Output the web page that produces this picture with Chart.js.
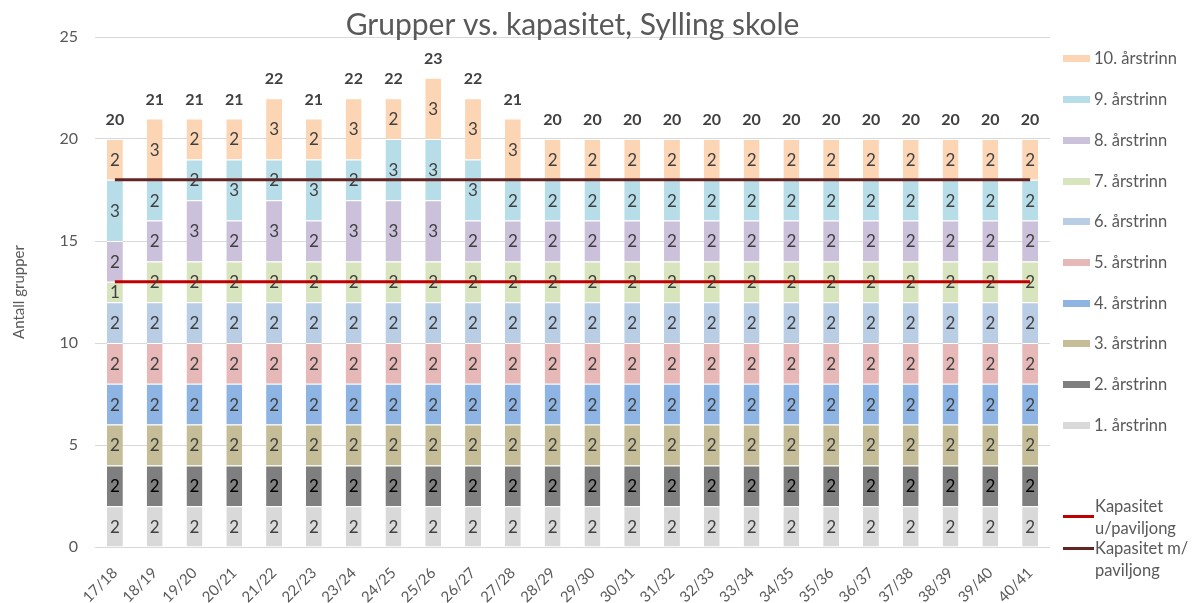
<!DOCTYPE html>
<html>
<head>
<meta charset="utf-8">
<script src="https://cdn.jsdelivr.net/npm/chart.js@4.4.1/dist/chart.umd.min.js"></script>
<style>
  body { margin: 0; background: #fff; font-family: Lato, sans-serif; }
  #wrap { position: relative; width: 1195px; height: 603px; }
  #legend { position: absolute; left: 1063px; top: 0; color: #595959; font-size: 16.5px; }
  .item { position: absolute; left: 0; white-space: nowrap; display: flex; align-items: center; }
  .sw { width: 27px; height: 7px; margin-right: 4px; }
  .ln { width: 31px; height: 3px; }
  .two { position: absolute; left: 32px; line-height: 22px; white-space: nowrap; }
</style>
</head>
<body>
<div id="wrap">
  <canvas id="chart" width="1195" height="603"></canvas>
  <div id="legend"></div>
</div>
<script>
const years = ["17/18","18/19","19/20","20/21","21/22","22/23","23/24","24/25","25/26","26/27","27/28",
  "28/29","29/30","30/31","31/32","32/33","33/34","34/35","35/36","36/37","37/38","38/39","39/40","40/41"];

const grade1 = [2,2,2,2,2,2,2,2,2,2,2,2,2,2,2,2,2,2,2,2,2,2,2,2];
const grade2 = [2,2,2,2,2,2,2,2,2,2,2,2,2,2,2,2,2,2,2,2,2,2,2,2];
const grade3 = [2,2,2,2,2,2,2,2,2,2,2,2,2,2,2,2,2,2,2,2,2,2,2,2];
const grade4 = [2,2,2,2,2,2,2,2,2,2,2,2,2,2,2,2,2,2,2,2,2,2,2,2];
const grade5 = [2,2,2,2,2,2,2,2,2,2,2,2,2,2,2,2,2,2,2,2,2,2,2,2];
const grade6 = [2,2,2,2,2,2,2,2,2,2,2,2,2,2,2,2,2,2,2,2,2,2,2,2];
const grade7 = [1,2,2,2,2,2,2,2,2,2,2,2,2,2,2,2,2,2,2,2,2,2,2,2];
const grade8 = [2,2,3,2,3,2,3,3,3,2,2,2,2,2,2,2,2,2,2,2,2,2,2,2];
const grade9 = [3,2,2,3,2,3,2,3,3,3,2,2,2,2,2,2,2,2,2,2,2,2,2,2];
const grade10 = [2,3,2,2,3,2,3,2,3,3,3,2,2,2,2,2,2,2,2,2,2,2,2,2];

const capWithout = [13,13,13,13,13,13,13,13,13,13,13,13,13,13,13,13,13,13,13,13,13,13,13,13];
const capWith = [18,18,18,18,18,18,18,18,18,18,18,18,18,18,18,18,18,18,18,18,18,18,18,18];

const gradeNames = ["1. årstrinn","2. årstrinn","3. årstrinn","4. årstrinn","5. årstrinn",
  "6. årstrinn","7. årstrinn","8. årstrinn","9. årstrinn","10. årstrinn"];
const gradeData = [grade1, grade2, grade3, grade4, grade5, grade6, grade7, grade8, grade9, grade10];
const gradeColors = ["#D9D9D9","#7F7F7F","#C4BD97","#8DB4E2","#E6B9B8",
  "#B9CDE5","#D7E4BD","#CCC1DA","#B7DEE8","#FCD5B5"];

const datasets = gradeData.map((d, i) => ({
  type: 'bar',
  label: gradeNames[i],
  data: d,
  backgroundColor: gradeColors[i],
  borderColor: '#ffffff',
  borderWidth: { top: 1 },
  borderSkipped: false,
  stack: 'grades',
  order: 2
}));

datasets.push({
  type: 'line', label: 'Kapasitet u/paviljong', data: capWithout,
  borderColor: '#C00000', borderWidth: 3, pointRadius: 0, stack: 'cap1', order: 1
});
datasets.push({
  type: 'line', label: 'Kapasitet m/ paviljong', data: capWith,
  borderColor: '#632523', borderWidth: 3, pointRadius: 0, stack: 'cap2', order: 1
});

const labelPlugin = {
  id: 'labels',
  afterDatasetsDraw(chart) {
    const ctx = chart.ctx;
    const y = chart.scales.y;
    ctx.save();
    ctx.textAlign = 'center';
    ctx.textBaseline = 'middle';
    ctx.font = '17px Lato, sans-serif';
    for (let i = 0; i < gradeData.length; i++) {
      const meta = chart.getDatasetMeta(i);
      ctx.fillStyle = i === 1 ? '#000000' : '#404040';
      meta.data.forEach((bar, j) => {
        const mid = (bar.y + bar.base) / 2;
        ctx.fillText(gradeData[i][j], bar.x, mid + 1);
      });
    }
    ctx.font = 'bold 16px Lato, sans-serif';
    ctx.fillStyle = '#404040';
    const top = chart.getDatasetMeta(gradeData.length - 1);
    top.data.forEach((bar, j) => {
      let sum = 0;
      gradeData.forEach(d => { sum += d[j]; });
      ctx.fillText(sum, bar.x, y.getPixelForValue(sum) - 19);
    });
    ctx.restore();
  }
};

new Chart(document.getElementById('chart'), {
  data: { labels: years, datasets: datasets },
  options: {
    responsive: false,
    animation: false,
    layout: { padding: { left: 0, right: 145, top: 0, bottom: 0 } },
    plugins: {
      legend: { display: false },
      tooltip: { enabled: false },
      title: {
        display: true,
        fullSize: false,
        text: 'Grupper vs. kapasitet, Sylling skole',
        color: '#595959',
        font: { family: 'Lato, sans-serif', size: 30, weight: 'normal' },
        padding: { top: 7, bottom: -6 }
      }
    },
    scales: {
      x: {
        stacked: true,
        grid: { display: false },
        border: { display: false },
        ticks: {
          color: '#595959', padding: 9,
          font: { family: 'Lato, sans-serif', size: 15 },
          maxRotation: 45, minRotation: 45, autoSkip: false
        },
        afterFit(s) { s.height = 56; }
      },
      y: {
        stacked: true,
        min: 0, max: 25,
        ticks: {
          stepSize: 5, color: '#595959', padding: 17,
          font: { family: 'Lato, sans-serif', size: 16 }
        },
        grid: { color: '#D9D9D9', drawTicks: false },
        border: { display: false },
        title: {
          display: true, text: 'Antall grupper', color: '#595959',
          font: { family: 'Lato, sans-serif', size: 15 },
          padding: { top: 10, bottom: 10 }
        },
        afterFit(s) { s.width = 95; }
      }
    },
    datasets: { bar: { barPercentage: 0.8, categoryPercentage: 0.5 } }
  },
  plugins: [labelPlugin]
});

// legend built from the same names and colours
const legend = document.getElementById('legend');
const legendTop = [59, 100, 141, 182, 222, 263, 304, 344, 385, 426];
for (let k = 9; k >= 0; k--) {
  const el = document.createElement('div');
  el.className = 'item';
  el.style.top = (legendTop[9 - k] - 11) + 'px';
  el.innerHTML = '<div class="sw" style="background:' + gradeColors[k] + '"></div>' + gradeNames[k];
  legend.appendChild(el);
}
const lineItems = [
  { color: '#C00000', l1: 'Kapasitet', l2: 'u/paviljong', y: 516, textTop: 495 },
  { color: '#632523', l1: 'Kapasitet m/', l2: 'paviljong', y: 548, textTop: 537 }
];
lineItems.forEach(it => {
  const ln = document.createElement('div');
  ln.className = 'ln';
  ln.style.cssText += 'position:absolute;left:0;top:' + (it.y - 1) + 'px;background:' + it.color;
  legend.appendChild(ln);
  const t = document.createElement('div');
  t.className = 'two';
  t.style.top = it.textTop + 'px';
  t.innerHTML = it.l1 + '<br>' + it.l2;
  legend.appendChild(t);
});
</script>
</body>
</html>
